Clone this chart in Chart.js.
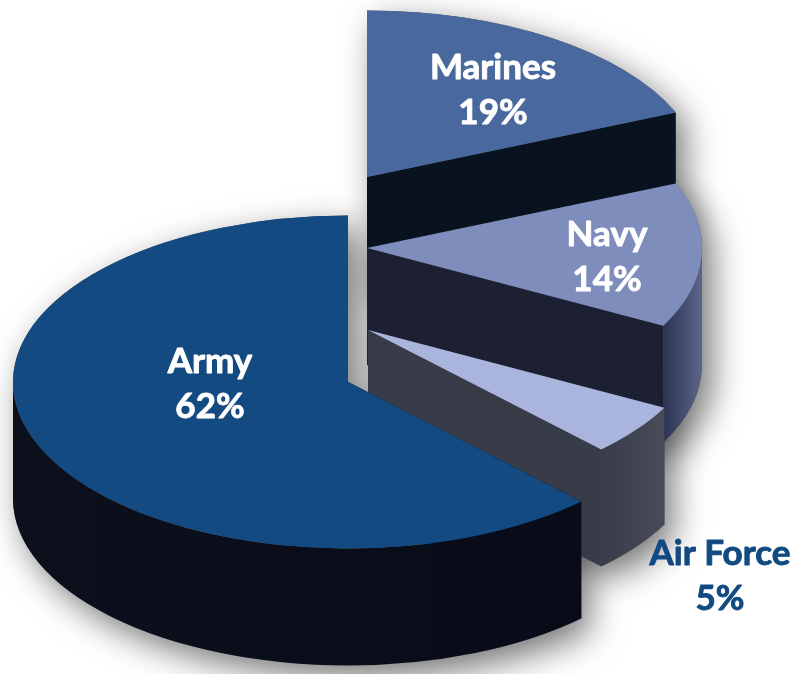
<!DOCTYPE html>
<html>
<head>
<meta charset="utf-8">
<title>Service share</title>
<style>
  html, body { margin: 0; background: #fff; }
  canvas { display: block; }
</style>
<script src="https://cdn.jsdelivr.net/npm/chart.js@4/dist/chart.umd.min.js"></script>
</head>
<body>
<canvas id="chart" width="793" height="674"></canvas>
<script>
// clockwise from 12 o'clock
const services = ['Marines', 'Navy', 'Air Force', 'Army']
const shares = [19, 14, 5, 62]

const topColors = ['#49689d', '#7f8dbd', '#a9b5dd', '#134a81']
const cutColors = ['#08131f', '#1c2032', '#383b48', '#0a0f1c']
const rimColors = [
  ['#08131f', '#08131f'],
  ['#2c3352', '#5c668b'],
  ['#383b48', '#484b59'],
  ['#0b101c', '#080c18']
]
const textColors = ['#fff', '#fff', '#114a81', '#fff']

// where each exploded slice has its point, and where its label sits
const apexes = [[367, 177], [367, 248], [368, 330], [348, 382]]
const labelSpots = [[493, 79], [607, 246], [720, 565], [210, 373]]
const squash = 0.497
const depth = 117
const lineGap = 45
const TOP = -Math.PI / 2

function slicePath(ctx, arc, i, dy) {
  const [ax, ay] = apexes[i]
  const r = arc.outerRadius
  ctx.moveTo(ax, ay + dy)
  ctx.ellipse(ax, ay + dy, r, r * squash, 0, Math.max(arc.startAngle, TOP), arc.endAngle)
  ctx.closePath()
}

function edgeFace(ctx, arc, i, angle) {
  const [ax, ay] = apexes[i]
  const r = arc.outerRadius
  const x = ax + Math.cos(angle) * r
  const y = ay + Math.sin(angle) * r * squash
  ctx.beginPath()
  ctx.moveTo(ax, ay)
  ctx.lineTo(x, y)
  ctx.lineTo(x, y + depth)
  ctx.lineTo(ax, ay + depth)
  ctx.closePath()
  ctx.fillStyle = cutColors[i]
  ctx.fill()
}

function rimFace(ctx, arc, i) {
  const [ax, ay] = apexes[i]
  const r = arc.outerRadius
  // only the front half of the rim can be seen
  const from = Math.max(arc.startAngle, 0)
  const to = Math.min(arc.endAngle, Math.PI)
  if (to <= from) return
  const ry = r * squash
  const left = ax + Math.cos(to) * r
  const right = ax + Math.cos(from) * r
  const grad = ctx.createLinearGradient(left, 0, right, 0)
  grad.addColorStop(0, rimColors[i][0])
  grad.addColorStop(1, rimColors[i][1])
  ctx.beginPath()
  ctx.ellipse(ax, ay, r, ry, 0, from, to)
  ctx.ellipse(ax, ay + depth, r, ry, 0, to, from, true)
  ctx.closePath()
  ctx.fillStyle = grad
  ctx.fill()
}

const pie3d = {
  id: 'pie3d',
  beforeDatasetDraw(chart) {
    const ctx = chart.ctx
    const arcs = chart.getDatasetMeta(0).data

    // soft shadow under everything first
    ctx.save()
    ctx.shadowColor = 'rgba(0,0,0,0.55)'
    ctx.shadowBlur = 34
    ctx.shadowOffsetX = 10
    ctx.shadowOffsetY = 12
    ctx.fillStyle = '#555'
    arcs.forEach((arc, i) => {
      ctx.beginPath()
      for (let dy = 0; dy <= depth; dy += 4) slicePath(ctx, arc, i, dy)
      ctx.fill()
    })
    ctx.restore()

    arcs.forEach((arc, i) => {
      edgeFace(ctx, arc, i, Math.max(arc.startAngle, TOP))
      edgeFace(ctx, arc, i, arc.endAngle)
      rimFace(ctx, arc, i)

      ctx.save()
      // the first slice starts a hair before 12 o'clock, keep its left side upright
      if (arc.startAngle < TOP) {
        ctx.beginPath()
        ctx.rect(apexes[i][0], 0, chart.width, chart.height)
        ctx.clip()
      }
      ctx.translate(apexes[i][0], apexes[i][1])
      ctx.scale(1, squash)
      ctx.translate(-arc.x, -arc.y)
      arc.draw(ctx)
      ctx.restore()
    })
    return false
  },
  afterDraw(chart) {
    const ctx = chart.ctx
    ctx.save()
    ctx.font = 'bold 35px Lato'
    ctx.textAlign = 'center'
    ctx.textBaseline = 'alphabetic'
    ctx.lineWidth = 0.9
    ctx.lineJoin = 'round'
    services.forEach((name, i) => {
      const [x, y] = labelSpots[i]
      ctx.fillStyle = textColors[i]
      ctx.strokeStyle = textColors[i]
      // Lato bold is a little thin next to the original face
      ctx.strokeText(name, x, y)
      ctx.fillText(name, x, y)
      ctx.strokeText(shares[i] + '%', x, y + lineGap)
      ctx.fillText(shares[i] + '%', x, y + lineGap)
    })
    ctx.restore()
  }
}

new Chart(document.getElementById('chart'), {
  type: 'pie',
  data: {
    labels: services,
    datasets: [{
      data: shares,
      backgroundColor: topColors,
      borderWidth: 0,
      radius: 335
    }]
  },
  options: {
    responsive: false,
    animation: false,
    events: [],
    rotation: -1.5,
    circumference: 361.5,
    layout: { padding: 0 },
    plugins: {
      legend: { display: false },
      tooltip: { enabled: false }
    }
  },
  plugins: [pie3d]
})
</script>
</body>
</html>
